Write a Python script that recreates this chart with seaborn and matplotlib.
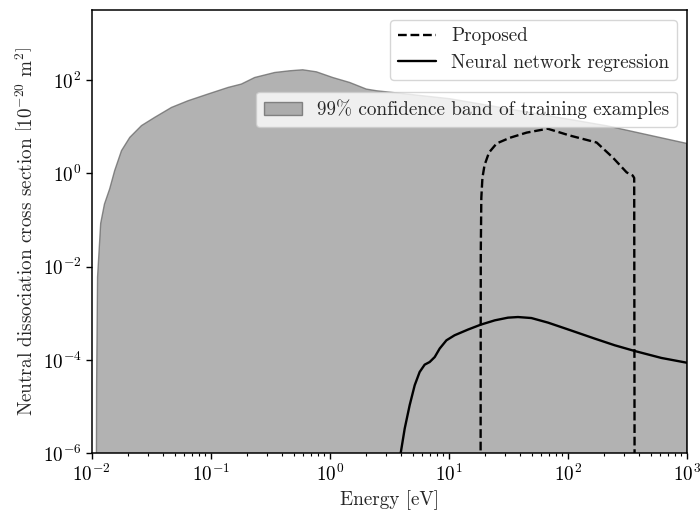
import numpy as np
import pandas as pd
import matplotlib
matplotlib.use("Agg")
import matplotlib.pyplot as plt
import matplotlib.ticker as mticker
import seaborn as sns

# ---- data ----
band_energy = [0.01090, 0.01100, 0.01120, 0.0119, 0.0128, 0.01416, 0.0156, 0.0178,
               0.0209, 0.0262, 0.0338, 0.0468, 0.0645, 0.0949, 0.140, 0.181,
               0.234, 0.345, 0.461, 0.593, 0.773, 1.06, 1.47, 2.03, 2.47,
               10.2, 213, 1000]
band_upper = [1e-8, 3e-5, 6e-3, 0.085, 0.22, 0.466, 1.15, 3.08,
              5.93, 10.6, 15.9, 26.0, 36.2, 50.4, 69.8, 82.5,
              114, 146, 159, 167, 151, 114, 89.3, 64.4, 59.3,
              40, 10.5, 4.4]
band_lower = [1e-10] * len(band_energy)

prop_energy = [18.5, 18.6, 18.8, 19.2, 20.0, 21.8, 25.3, 32.6, 45.2, 67.9,
               104, 175, 239, 313, 352, 362, 366]
prop_xs = [1e-9, 0.02, 0.3, 0.8, 1.5, 2.8, 4.4, 5.8, 7.5, 9.1,
           6.5, 4.6, 2.2, 1.05, 0.9, 0.8, 1e-9]

nn_energy = [3.85, 3.95, 4.27, 4.70, 5.18, 5.70, 6.28, 6.92, 7.63, 8.40, 9.57,
             11.2, 14.5, 18.6, 24.4, 31.5, 38.2, 49.5, 68.3, 100.7, 168.7,
             248, 366, 613, 1000]
nn_xs = [5e-7, 1.0e-6, 3.38e-6, 1.07e-5, 2.86e-5, 5.5e-5, 7.9e-5, 9.0e-5,
         1.15e-4, 1.75e-4, 2.63e-4, 3.37e-4, 4.46e-4, 5.7e-4, 7.05e-4,
         8.05e-4, 8.3e-4, 7.9e-4, 6.3e-4, 4.5e-4, 2.86e-4, 2.06e-4,
         1.55e-4, 1.1e-4, 8.7e-5]

x_ticks = [1e-2, 1e-1, 1e0, 1e1, 1e2, 1e3]
y_ticks = [1e-6, 1e-4, 1e-2, 1e0, 1e2]

# ---- style ----
sns.set_theme(style="ticks")
FS = 13.8
plt.rcParams.update({
    "font.family": "serif",
    "font.serif": ["cmr10"],
    "mathtext.fontset": "cm",
    "axes.formatter.use_mathtext": True,
    "font.size": FS,
    "axes.labelsize": FS,
    "xtick.labelsize": FS,
    "ytick.labelsize": FS,
    "legend.fontsize": FS,
    "axes.edgecolor": "black",
    "axes.linewidth": 1.1,
    "xtick.color": "black",
    "ytick.color": "black",
    "xtick.direction": "out",
    "ytick.direction": "out",
})

fig = plt.figure(figsize=(7.0, 5.12), dpi=100)
ax = fig.add_axes([0.131, 0.115, 0.85, 0.865])

band = ax.fill_between(band_energy, band_lower, band_upper,
                       facecolor=(0.5, 0.5, 0.5, 0.6),
                       edgecolor=(0.4, 0.4, 0.4, 0.75), linewidth=1.0,
                       label="99% confidence band of training examples")

df_prop = pd.DataFrame({"E": prop_energy, "xs": prop_xs})
df_nn = pd.DataFrame({"E": nn_energy, "xs": nn_xs})
sns.lineplot(data=df_prop, x="E", y="xs", ax=ax, color="black", linestyle="--",
             linewidth=1.7, sort=False, label="Proposed")
sns.lineplot(data=df_nn, x="E", y="xs", ax=ax, color="black", linestyle="-",
             linewidth=1.7, sort=False, label="Neural network regression")

ax.set_xscale("log")
ax.set_yscale("log")
ax.set_xlim(1e-2, 1e3)
ax.set_ylim(1e-6, 10 ** 3.5)
ax.set_xticks(x_ticks)
ax.set_yticks(y_ticks)
ax.yaxis.set_minor_locator(mticker.NullLocator())
ax.xaxis.set_minor_locator(mticker.LogLocator(base=10, subs=np.arange(2, 10)))
ax.xaxis.set_minor_formatter(mticker.NullFormatter())
ax.tick_params(which="major", length=4, width=1)
ax.tick_params(which="minor", length=2.5, width=0.8)

ax.set_xlabel("Energy [eV]")
ax.set_ylabel(r"Neutral dissociation cross section $\left[10^{-20}\ \mathrm{m}^2\right]$")

handles, labels = ax.get_legend_handles_labels()
line_h = [h for h, l in zip(handles, labels) if l != band.get_label()]
line_l = [l for l in labels if l != band.get_label()]
leg1 = ax.legend(line_h, line_l, loc="upper right", frameon=True,
                 borderpad=0.4, labelspacing=0.45)
ax.add_artist(leg1)
ax.legend([band], [band.get_label()], loc="upper right",
          bbox_to_anchor=(1.0, 0.838), frameon=True, borderpad=0.4)

fig.savefig("out.png", dpi=100)
